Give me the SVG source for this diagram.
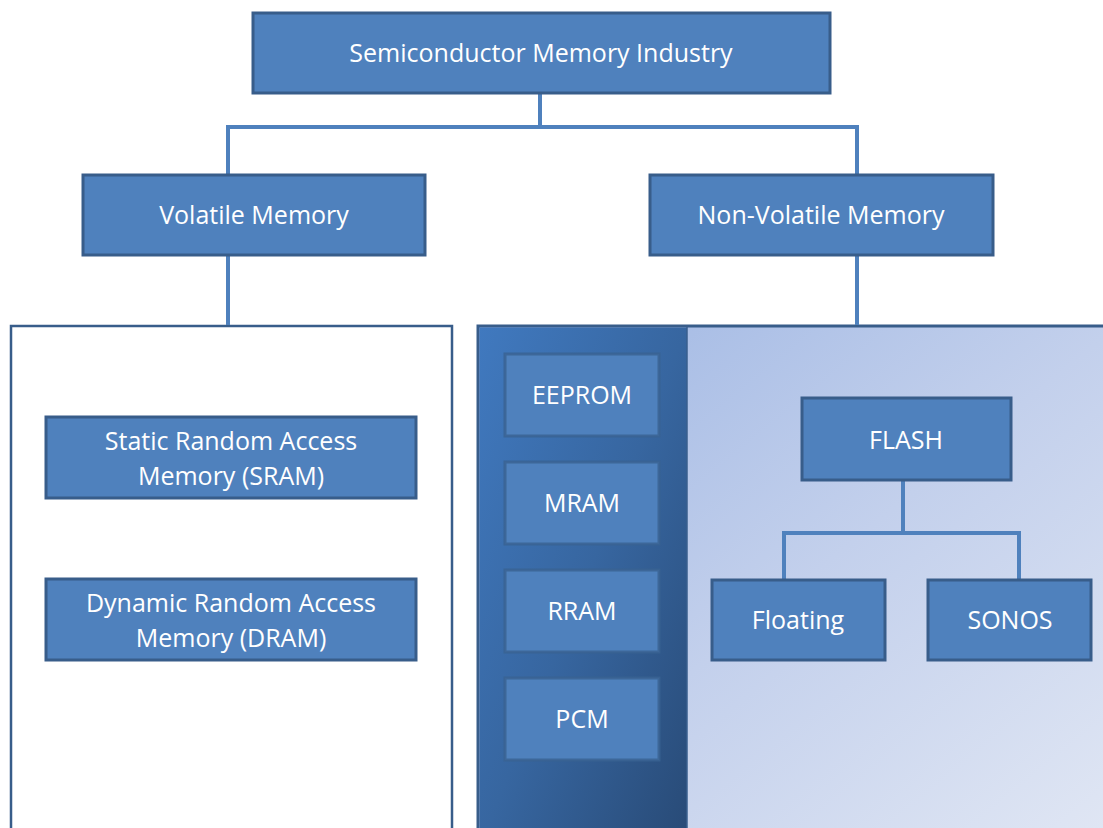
<svg xmlns="http://www.w3.org/2000/svg" width="1103" height="828" viewBox="0 0 1103 828">
  <style>
    .box { fill: #4F81BD; stroke: #385D8A; stroke-width: 3; }
    .sub { fill: #4F81BD; stroke: #3A6393; stroke-opacity: 0.85; stroke-width: 3; }
    .lbl { font-family: "Open Sans", "Noto Sans", sans-serif; font-size: 25px; fill: #FFFFFF; text-anchor: middle; }
    .wire { fill: none; stroke: #4F81BD; stroke-width: 4; }
  </style>
  <defs>
    <linearGradient id="stripGrad" x1="0" y1="0" x2="1" y2="1">
      <stop offset="0" stop-color="#4079BF"/>
      <stop offset="0.5" stop-color="#3766A0"/>
      <stop offset="1" stop-color="#284A76"/>
    </linearGradient>
    <linearGradient id="paneGrad" x1="0" y1="0" x2="1" y2="1">
      <stop offset="0" stop-color="#9EB6E3"/>
      <stop offset="0.5" stop-color="#C3D0EC"/>
      <stop offset="1" stop-color="#E1E7F4"/>
    </linearGradient>
  </defs>

  <rect width="1103" height="828" fill="#FFFFFF"/>

  <!-- containers -->
  <g id="volatile-panel">
    <rect x="11" y="326" width="441" height="520" fill="#FFFFFF" stroke="#385D8A" stroke-width="2.5"/>
  </g>
  <g id="nonvolatile-panel">
    <rect x="478" y="326" width="640" height="520" fill="url(#paneGrad)" stroke="#385D8A" stroke-width="3"/>
    <rect x="479.5" y="327.5" width="207.5" height="520" fill="url(#stripGrad)"/>
    <line x1="687" y1="327" x2="687" y2="828" stroke="#3A5F8E" stroke-width="1.5"/>
  </g>

  <!-- connectors -->
  <g id="connectors">
    <path class="wire" d="M540 93 V127 M228 127 H857 M228 125 V175 M857 125 V175"/>
    <path class="wire" d="M228 255 V325"/>
    <path class="wire" d="M857 255 V325"/>
    <path class="wire" d="M903 480 V533 M784 533 H1019 M784 531 V580 M1019 531 V580"/>
  </g>

  <g id="n-root">
    <rect class="box" x="253" y="13" width="577" height="80"/>
    <text class="lbl" x="541" y="62">Semiconductor Memory Industry</text>
  </g>
  <g id="n-volatile">
    <rect class="box" x="83" y="175" width="342" height="80"/>
    <text class="lbl" x="254" y="224">Volatile Memory</text>
  </g>
  <g id="n-nonvolatile">
    <rect class="box" x="650" y="175" width="343" height="80"/>
    <text class="lbl" x="821" y="224">Non-Volatile Memory</text>
  </g>

  <g id="n-sram">
    <rect class="box" x="46" y="417" width="370" height="81"/>
    <text class="lbl" x="231" y="450">Static Random Access</text>
    <text class="lbl" x="231" y="485">Memory (SRAM)</text>
  </g>
  <g id="n-dram">
    <rect class="box" x="46" y="579" width="370" height="81"/>
    <text class="lbl" x="231" y="612">Dynamic Random Access</text>
    <text class="lbl" x="231" y="647">Memory (DRAM)</text>
  </g>

  <g id="n-eeprom">
    <rect class="sub" x="505" y="354" width="154" height="82"/>
    <text class="lbl" x="582" y="404">EEPROM</text>
  </g>
  <g id="n-mram">
    <rect class="sub" x="505" y="462" width="154" height="82"/>
    <text class="lbl" x="582" y="512">MRAM</text>
  </g>
  <g id="n-rram">
    <rect class="sub" x="505" y="570" width="154" height="82"/>
    <text class="lbl" x="582" y="620">RRAM</text>
  </g>
  <g id="n-pcm">
    <rect class="sub" x="505" y="678" width="154" height="82"/>
    <text class="lbl" x="582" y="728">PCM</text>
  </g>

  <g id="n-flash">
    <rect class="box" x="802" y="398" width="209" height="82"/>
    <text class="lbl" x="906" y="449">FLASH</text>
  </g>
  <g id="n-floating">
    <rect class="box" x="712" y="580" width="173" height="80"/>
    <text class="lbl" x="798" y="629">Floating</text>
  </g>
  <g id="n-sonos">
    <rect class="box" x="928" y="580" width="163" height="80"/>
    <text class="lbl" x="1010" y="629">SONOS</text>
  </g>
</svg>
